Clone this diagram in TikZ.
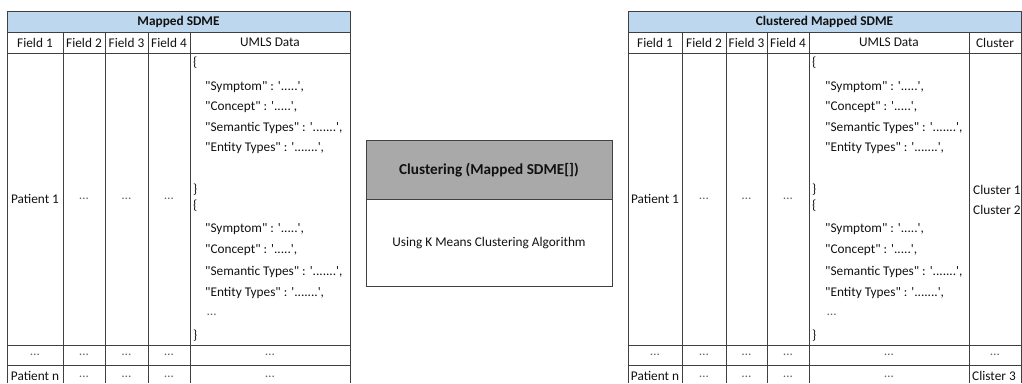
\documentclass[tikz,border=0pt]{standalone}
\usepackage{fontspec}
\newfontfamily\cfont{Carlito}
\definecolor{hdrblue}{HTML}{BDD7EE}
\definecolor{boxgray}{HTML}{A9A9A9}
\definecolor{linegray}{HTML}{404040}
\definecolor{txt}{HTML}{111111}
\begin{document}
\begin{tikzpicture}[x=1pt,y=-1pt,
  grid/.style={draw=linegray,line width=0.8pt},
  cell/.style={inner sep=0pt,font=\cfont\fontsize{13.3}{15}\selectfont,text=txt},
  hdr/.style={cell,font=\cfont\bfseries\fontsize{13.3}{15}\selectfont},
  json/.style={cell,anchor=west},
  dots/.style={cell,text=black!60}]
\useasboundingbox (0,0) rectangle (1022,383);
% ---------- left table ----------
\fill[hdrblue] (7,11) rectangle (350,32);
\draw[grid] (7,383) -- (7,11) -- (350,11) -- (350,383);
\foreach \yy in {32,53,345,365} \draw[grid] (7,\yy) -- (350,\yy);
\foreach \xx in {63,105,148,190} \draw[grid] (\xx,32) -- (\xx,383);
\node[hdr] (lt) at (178.5,21.5) {Mapped SDME};
\node[cell] (lf1) at (35,42.5) {Field 1};
\node[cell] (lf2) at (84,42.5) {Field 2};
\node[cell] (lf3) at (126.5,42.5) {Field 3};
\node[cell] (lf4) at (169,42.5) {Field 4};
\node[cell] (lu) at (270,42.5) {UMLS Data};
\node[cell] (lp1) at (35,199) {Patient 1};
\node[dots] (ld2) at (84,199) {…};
\node[dots] (ld3) at (126.5,199) {…};
\node[dots] (ld4) at (169,199) {…};
\node[json] (lb1) at (193,63) {\{};
\node[json] (ls1) at (205,87) {"Symptom" : '.....',};
\node[json] (lc1) at (205,107) {"Concept" : '.....',};
\node[json] (lst1) at (205,128) {"Semantic Types" : '.......',};
\node[json] (le1) at (205,148) {"Entity Types" : '.......',};
\node[json] (lb2) at (193,190) {\}};
\node[json] (lb3) at (193,206) {\{};
\node[json] (ls2) at (205,229) {"Symptom" : '.....',};
\node[json] (lc2) at (205,250) {"Concept" : '.....',};
\node[json] (lst2) at (205,272) {"Semantic Types" : '.......',};
\node[json] (le2) at (205,293) {"Entity Types" : '.......',};
\node[dots,anchor=west] (ldd) at (207,315) {…};
\node[json] (lb4) at (193,336) {\}};
\node[dots] (lr1) at (35,355) {…};
\node[dots] (lr2) at (84,355) {…};
\node[dots] (lr3) at (126.5,355) {…};
\node[dots] (lr4) at (169,355) {…};
\node[dots] (lr5) at (270,355) {…};
\node[cell] (lpn) at (35,376) {Patient n};
\node[dots] (ln2) at (84,377) {…};
\node[dots] (ln3) at (126.5,377) {…};
\node[dots] (ln4) at (169,377) {…};
\node[dots] (ln5) at (270,377) {…};
% ---------- middle box ----------
\fill[boxgray] (366,140) rectangle (612,199);
\draw[grid] (366,140) rectangle (612,286);
\draw[grid] (366,199) -- (612,199);
\node[hdr,font=\cfont\bfseries\fontsize{15.2}{17}\selectfont] (mt) at (489,170) {Clustering (Mapped SDME[])};
\node[cell] (mb) at (489,243) {Using K Means Clustering Algorithm};
% ---------- right table ----------
\fill[hdrblue] (628,11) rectangle (1021,32);
\draw[grid] (628,383) -- (628,11) -- (1021,11) -- (1021,383);
\foreach \yy in {32,53,345,365} \draw[grid] (628,\yy) -- (1021,\yy);
\foreach \xx in {682,726,767,809,969} \draw[grid] (\xx,32) -- (\xx,383);
\node[hdr] (rt) at (824.5,21.5) {Clustered Mapped SDME};
\node[cell] (rf1) at (655,42.5) {Field 1};
\node[cell] (rf2) at (704,42.5) {Field 2};
\node[cell] (rf3) at (746.5,42.5) {Field 3};
\node[cell] (rf4) at (788,42.5) {Field 4};
\node[cell] (ru) at (889,42.5) {UMLS Data};
\node[cell] (rcl) at (995,42.5) {Cluster};
\node[cell] (rp1) at (655,199) {Patient 1};
\node[dots] (rd2) at (704,199) {…};
\node[dots] (rd3) at (746.5,199) {…};
\node[dots] (rd4) at (788,199) {…};
\node[json] (rb1) at (812,63) {\{};
\node[json] (rs1) at (825,87) {"Symptom" : '.....',};
\node[json] (rc1) at (825,107) {"Concept" : '.....',};
\node[json] (rst1) at (825,128) {"Semantic Types" : '.......',};
\node[json] (re1) at (825,148) {"Entity Types" : '.......',};
\node[json] (rb2) at (812,190) {\}};
\node[json] (rb3) at (812,206) {\{};
\node[json] (rs2) at (825,229) {"Symptom" : '.....',};
\node[json] (rc2) at (825,250) {"Concept" : '.....',};
\node[json] (rst2) at (825,272) {"Semantic Types" : '.......',};
\node[json] (re2) at (825,293) {"Entity Types" : '.......',};
\node[dots,anchor=west] (rdd) at (827,315) {…};
\node[json] (rb4) at (812,336) {\}};
\node[json] (rk1) at (973,190) {Cluster 1};
\node[json] (rk2) at (973,210) {Cluster 2};
\node[dots] (rr1) at (655,355) {…};
\node[dots] (rr2) at (704,355) {…};
\node[dots] (rr3) at (746.5,355) {…};
\node[dots] (rr4) at (788,355) {…};
\node[dots] (rr5) at (889,355) {…};
\node[dots] (rr6) at (995,355) {…};
\node[cell] (rpn) at (655,376) {Patient n};
\node[dots] (rn2) at (704,377) {…};
\node[dots] (rn3) at (746.5,377) {…};
\node[dots] (rn4) at (788,377) {…};
\node[dots] (rn5) at (889,377) {…};
\node[json] (rk3) at (972,376) {Clister 3};
\end{tikzpicture}
\end{document}
